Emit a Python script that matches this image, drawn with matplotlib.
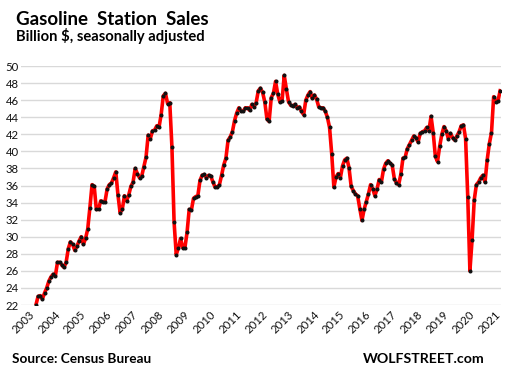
import matplotlib
matplotlib.use("Agg")
import matplotlib.pyplot as plt
import numpy as np
import pandas as pd

# Monthly data, Jul 2003 - Jun 2021 (billion $, seasonally adjusted)
start_month = "2003-07"
values = [
    22.0, 23.0, 23.1, 22.7, 23.4, 24.0,                     # 2003 H2
    24.8, 25.3, 25.6, 25.4, 27.0, 27.0, 26.7, 26.4, 27.0, 28.6, 29.4, 29.1,  # 2004
    28.4, 28.9, 29.5, 30.0, 29.1, 29.8, 30.9, 33.4, 36.1, 35.9, 33.2, 33.2,  # 2005
    34.2, 34.1, 34.1, 35.6, 36.1, 36.3, 36.9, 37.6, 34.9, 32.8, 33.2, 34.8,  # 2006
    34.2, 34.9, 35.9, 36.4, 38.0, 37.4, 36.9, 37.1, 38.2, 39.3, 41.9, 41.5,  # 2007
    42.4, 42.5, 43.0, 42.8, 44.3, 46.5, 46.8, 45.6, 45.7, 40.5, 31.7, 27.9,  # 2008
    28.7, 29.8, 28.7, 28.7, 30.5, 33.2, 33.1, 34.5, 34.7, 34.8, 36.6, 37.2,  # 2009
    37.3, 36.9, 37.2, 37.1, 36.4, 35.8, 35.8, 36.1, 37.2, 38.4, 39.2, 41.3,  # 2010
    41.7, 42.3, 43.6, 44.5, 45.1, 44.7, 44.7, 45.1, 45.1, 44.8, 45.5, 45.2,  # 2011
    45.7, 47.1, 47.4, 46.9, 45.8, 43.8, 43.5, 46.3, 46.8, 48.2, 46.7, 45.8,  # 2012
    45.9, 48.9, 47.3, 45.8, 45.4, 45.3, 45.5, 45.1, 45.2, 44.7, 44.3, 46.0,  # 2013
    46.6, 47.0, 46.2, 46.6, 46.1, 45.2, 45.1, 45.1, 44.7, 44.0, 42.8, 39.7,  # 2014
    35.8, 37.0, 37.4, 36.9, 38.3, 39.0, 39.2, 38.1, 35.9, 35.4, 35.0, 34.8,  # 2015
    33.3, 31.9, 33.2, 34.1, 35.0, 36.1, 35.6, 34.8, 35.6, 36.7, 36.4, 37.9,  # 2016
    38.6, 38.9, 38.6, 38.4, 36.8, 36.3, 36.1, 37.3, 39.2, 39.3, 40.3, 40.8,  # 2017
    41.3, 41.8, 41.6, 41.1, 42.1, 42.3, 42.4, 42.8, 42.4, 44.1, 42.2, 39.4,  # 2018
    38.8, 40.6, 42.0, 42.9, 42.4, 41.5, 42.1, 41.6, 41.3, 41.8, 42.3, 43.0,  # 2019
    43.1, 41.5, 34.7, 26.0, 29.6, 34.3, 36.1, 36.4, 36.9, 37.2, 36.4, 39.0,  # 2020
    40.9, 42.2, 46.4, 45.8, 45.9, 47.1,                     # 2021 H1
]
year_labels = [str(y) for y in range(2003, 2022)]
y_ticks = list(range(22, 51, 2))

title = "Gasoline  Station  Sales"
subtitle = "Billion $, seasonally adjusted"
source = "Source: Census Bureau"
brand = "WOLFSTREET.com"

plt.rcParams['font.family'] = ['Lato', 'DejaVu Sans']

W, H = 506, 377
fig = plt.figure(figsize=(W / 100, H / 100), dpi=100)
ax = fig.add_axes([21 / W, 72 / H, 480 / W, 239 / H])

periods = pd.period_range(start_month, periods=len(values), freq="M")
x = (periods.year - 2003) * 12 + periods.month - 1
ax.plot(x, values, color="#ff0000", lw=2.6, zorder=3, solid_joinstyle="round")
ax.plot(x, values, ls="none", marker="o", ms=1.9, color="#111111", zorder=4)

ax.set_ylim(22, 50)
ax.set_yticks(y_ticks)
ax.set_yticklabels([str(v) for v in y_ticks])
ax.set_xlim(-0.9, 221.4)
ax.set_xticks([int(y) * 12 - 2003 * 12 for y in year_labels])
ax.set_xticklabels(year_labels, rotation=45, ha="center")
ax.grid(axis="y", color="#d9d9d9", lw=1.0, zorder=0)
ax.grid(axis="x", visible=False)
for s in ax.spines.values():
    s.set_visible(False)
ax.tick_params(axis="both", length=0, labelsize=8.2, colors="#111111")
ax.tick_params(axis="y", pad=1.5)
ax.tick_params(axis="x", pad=3)

fig.text(16 / W, 1 - 25 / H, title, fontsize=13.5, fontweight="bold", va="baseline", ha="left")
fig.text(16 / W, 1 - 41.5 / H, subtitle, fontsize=10.6, fontweight="bold", va="baseline", ha="left")
fig.text(12 / W, 1 - 363 / H, source, fontsize=9.8, fontweight="bold", va="baseline", ha="left")
fig.text(485 / W, 1 - 363 / H, brand, fontsize=10.2, fontweight="bold", va="baseline", ha="right")

fig.savefig("out.png", dpi=100)
